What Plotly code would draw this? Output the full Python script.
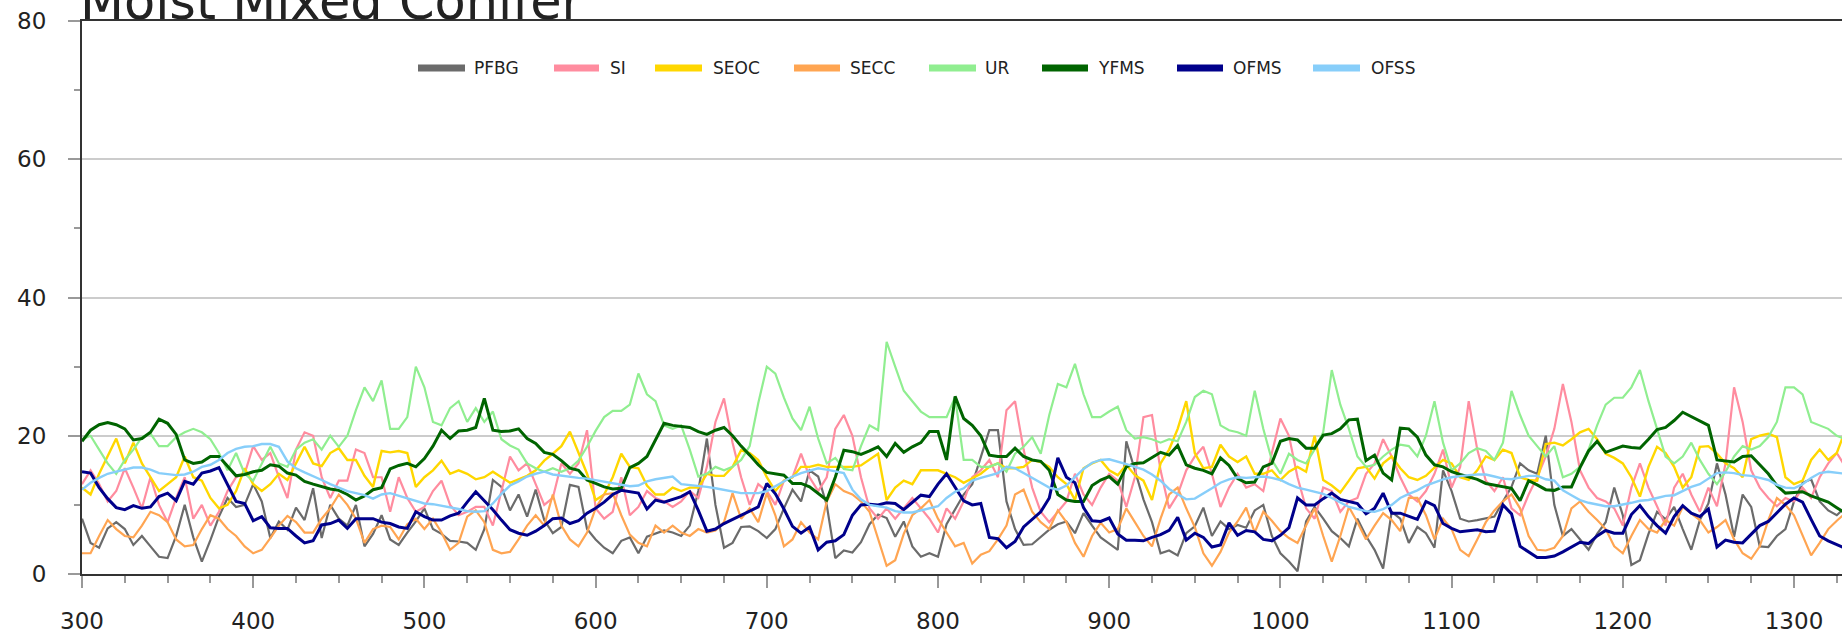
import plotly.graph_objects as go

# ---------------- data (5-year steps) ----------------
start_year = 300
step = 5

PFBG = [8.0, 4.5, 3.8, 6.6, 7.5, 6.5, 4.2, 5.5, 4.0, 2.5, 2.3, 5.5, 10.0, 5.3, 1.8, 4.9, 8.3, 11.0, 9.7, 10.0,
        13.0, 10.5, 5.2, 7.6, 6.4, 9.6, 7.8, 12.4, 5.2, 10.0, 8.0, 7.0, 10.0, 4.0, 5.8,
        8.5, 5.0, 4.2, 6.0, 7.6, 9.5, 6.5, 5.8, 4.8, 4.7, 4.5, 3.5, 6.5, 13.6, 12.6, 9.2, 11.5, 8.3, 12.2, 7.8,
        5.9, 6.8, 12.9, 12.6, 6.5, 5.0, 3.8, 3.0, 4.8, 5.3, 3.0, 5.4, 5.9, 6.3, 6.0,
        5.5, 7.0, 12.0, 19.6, 10.0, 3.8, 4.5, 6.8, 6.9, 6.2, 5.2, 6.5, 9.5, 12.2, 10.5, 15.0, 14.1, 10.0, 2.3, 3.4,
        3.1, 4.6, 7.2, 8.6, 8.1, 5.4, 7.6, 4.0, 2.5, 3.0, 2.5, 7.2, 9.3, 11.5,
        13.0, 17.0, 20.8, 20.8, 10.5, 6.5, 4.2, 4.3, 5.4, 6.4, 7.2, 7.6, 5.9, 8.8, 7.0, 5.3, 4.4, 3.5, 19.2, 15.0,
        10.8, 7.5, 3.0, 3.4, 2.7, 5.9, 6.9, 9.6, 5.5, 7.6, 6.5, 7.1, 6.7, 9.2,
        10.0, 5.5, 3.0, 1.8, 0.4, 7.6, 9.7, 8.0, 6.2, 5.2, 4.0, 8.0, 5.5, 3.5, 0.8, 9.0, 8.0, 4.5, 6.8, 5.9,
        3.8, 15.0, 12.0, 8.0, 7.6, 7.8, 8.0, 8.3, 10.5, 12.6, 16.0, 15.0, 14.5, 20.0, 10.0,
        5.5, 6.5, 5.0, 3.5, 5.8, 7.5, 12.5, 8.5, 1.3, 2.0, 5.8, 9.0, 7.9, 9.7, 6.5, 3.5, 7.8, 10.2, 16.0, 11.5,
        5.4, 11.5, 9.7, 4.0, 3.9, 5.5, 6.5, 10.5, 13.2, 13.7, 10.5, 9.2, 8.5, 9.7]

SI = [13.0, 15.0, 13.0, 10.5, 12.0, 15.3, 12.5, 9.5, 14.0, 10.0, 7.5, 11.0, 14.0, 8.0, 10.0, 7.0, 9.0, 12.0, 14.0, 14.5,
      18.5, 16.5, 17.5, 14.0, 11.0, 18.0, 20.5, 20.0, 14.0, 11.0, 13.5, 13.5, 18.0, 17.5, 14.0,
      14.0, 9.0, 14.0, 11.0, 9.0, 9.7, 12.0, 13.5, 10.0, 8.5, 9.0, 9.7, 9.7, 7.0, 12.0, 17.0, 15.0, 16.0, 13.0, 10.0,
      11.0, 16.0, 14.5, 16.0, 20.8, 9.5, 8.0, 9.0, 14.0, 8.5, 9.7, 12.0, 11.0, 10.5, 9.7,
      10.5, 12.0, 11.0, 15.5, 22.0, 25.4, 19.0, 14.0, 10.0, 13.0, 12.0, 10.0, 13.5, 14.0, 17.4, 14.0, 12.0, 14.0, 21.0, 23.0,
      20.0, 14.0, 9.5, 8.0, 9.5, 8.0, 9.5, 11.0, 9.5, 8.0, 6.0, 9.5, 8.0, 10.5,
      14.0, 15.0, 16.5, 14.0, 23.7, 25.0, 18.0, 12.5, 9.0, 7.5, 9.0, 10.5, 14.5, 11.5, 10.0, 12.5, 14.5, 13.5, 9.7, 14.0,
      22.7, 23.0, 15.0, 9.5, 11.5, 15.0, 17.0, 18.4, 14.5, 9.7, 12.5, 14.5, 12.5, 13.0,
      12.0, 17.5, 22.5, 20.0, 14.0, 9.5, 8.0, 12.5, 12.0, 9.0, 10.5, 11.0, 14.5, 16.0, 19.5, 17.0, 14.0, 11.5, 10.5, 12.0,
      14.5, 18.0, 12.5, 15.5, 25.0, 18.0, 13.5, 12.0, 14.0, 9.5, 8.5, 11.5, 14.0, 17.0, 21.0,
      27.5, 22.0, 15.0, 12.5, 11.0, 10.5, 9.5, 7.0, 12.5, 16.0, 12.5, 9.8, 7.0, 12.5, 14.5, 11.5, 9.0, 12.5, 9.8, 16.0,
      27.0, 22.0, 15.0, 12.5, 11.0, 9.8, 11.0, 10.5, 12.5, 11.0, 14.0, 16.0, 17.5, 15.5]

SEOC = [12.5, 11.5, 14.5, 17.0, 19.6, 16.0, 19.0, 16.0, 14.0, 12.0, 13.0, 14.0, 17.0, 14.0, 13.5, 11.0, 9.5, 10.0, 12.0, 15.3,
        13.0, 12.0, 13.0, 14.5, 13.6, 16.0, 18.4, 16.0, 15.6, 17.5, 18.2, 16.5, 16.5, 14.2, 12.6,
        17.8, 17.6, 17.8, 17.5, 12.6, 14.0, 15.0, 16.4, 14.5, 15.0, 14.5, 13.7, 14.0, 14.8, 14.0, 13.2, 13.7, 14.2, 15.0, 16.4,
        17.4, 18.5, 20.6, 17.6, 14.5, 10.7, 11.5, 14.0, 17.4, 15.5, 15.3, 12.8, 11.5, 11.5, 12.5,
        12.0, 12.5, 12.5, 14.5, 14.2, 14.2, 15.5, 17.9, 17.5, 16.5, 14.0, 12.0, 13.5, 14.0, 15.5, 15.5, 15.8, 15.5, 15.5, 15.5,
        15.5, 15.7, 16.5, 17.4, 10.7, 12.5, 13.5, 13.0, 15.0, 15.0, 15.0, 14.5, 14.0, 13.2,
        13.9, 14.5, 15.5, 16.0, 15.3, 15.3, 15.5, 16.5, 16.2, 15.5, 14.0, 13.0, 10.7, 15.3, 16.0, 16.5, 15.0, 14.3, 15.8, 14.3,
        13.5, 10.7, 16.0, 18.0, 21.0, 25.0, 17.5, 15.3, 15.5, 18.7, 17.0, 16.2, 17.0, 14.5,
        14.5, 15.0, 13.6, 14.8, 15.5, 14.8, 20.0, 13.6, 12.8, 11.8, 13.5, 15.3, 15.5, 13.8, 16.0, 17.0, 15.3, 14.0, 13.6, 14.2,
        15.4, 16.5, 16.0, 14.0, 13.6, 15.0, 17.0, 16.5, 18.0, 17.5, 14.0, 13.6, 13.5, 18.8, 19.0,
        18.6, 19.5, 20.5, 21.0, 19.5, 17.4, 16.8, 16.0, 14.0, 11.2, 15.5, 18.4, 17.5, 15.5, 12.5, 14.0, 18.4, 18.5, 17.4, 16.0,
        15.3, 14.0, 19.5, 20.0, 20.3, 19.8, 14.0, 13.0, 13.5, 16.5, 18.0, 16.5, 17.5, 20.8]

SECC = [3.0, 3.0, 5.5, 7.8, 6.5, 5.5, 5.3, 7.0, 9.0, 8.5, 7.5, 5.0, 4.0, 4.2, 6.5, 8.5, 8.0, 6.5, 5.5, 4.0,
        3.0, 3.5, 5.2, 7.0, 8.4, 7.5, 6.0, 6.0, 8.0, 9.5, 11.5, 10.0, 8.0, 4.5, 6.5,
        7.0, 6.8, 5.0, 7.2, 8.0, 6.5, 8.0, 6.0, 3.5, 4.5, 8.3, 9.2, 7.5, 3.5, 3.0, 3.2, 5.0, 7.0, 8.5, 7.0,
        11.5, 7.0, 5.0, 4.0, 6.0, 9.5, 11.5, 11.7, 8.5, 5.7, 4.5, 4.0, 7.0, 6.0, 7.0,
        6.0, 5.5, 6.5, 6.0, 6.3, 7.5, 11.7, 8.0, 9.5, 7.5, 11.7, 8.5, 4.0, 5.0, 7.5, 6.0, 5.0, 10.5, 13.0, 12.0,
        11.5, 10.5, 9.0, 5.0, 1.2, 2.0, 5.8, 8.5, 9.5, 10.7, 8.0, 6.0, 4.0, 4.5,
        1.5, 2.8, 3.3, 5.0, 7.0, 11.5, 12.2, 9.0, 7.5, 6.5, 9.2, 7.5, 4.5, 2.5, 5.5, 7.4, 6.0, 6.5, 9.5, 7.5,
        5.5, 4.0, 8.0, 11.5, 12.5, 9.5, 6.8, 3.0, 1.2, 3.2, 6.0, 7.6, 9.6, 6.0,
        9.0, 7.7, 6.2, 5.2, 4.5, 7.0, 9.5, 5.5, 1.8, 5.5, 9.7, 7.5, 5.0, 7.0, 8.8, 7.8, 6.2, 11.0, 11.0, 8.5,
        5.0, 8.0, 6.5, 3.5, 2.6, 5.0, 7.5, 9.2, 10.5, 11.5, 9.5, 5.5, 3.5, 3.4, 3.8,
        5.5, 9.5, 10.5, 9.0, 7.8, 6.5, 4.0, 3.0, 5.5, 7.8, 6.5, 6.0, 7.8, 7.0, 9.7, 8.8, 7.8, 6.0, 6.8, 7.8,
        5.0, 3.0, 2.2, 4.0, 7.8, 11.0, 10.0, 8.5, 5.5, 2.7, 4.5, 6.5, 7.7, 8.8]

UR = [19.5, 20.0, 18.0, 16.0, 14.5, 16.5, 18.0, 19.8, 20.3, 18.5, 18.5, 19.8, 20.5, 21.0, 20.5, 19.5, 17.5, 15.0, 17.5, 14.5,
      13.5, 16.0, 18.4, 16.0, 15.5, 18.0, 19.0, 19.5, 18.0, 20.0, 18.4, 20.0, 23.7, 27.0, 25.0,
      28.0, 21.0, 21.0, 22.7, 30.0, 27.0, 22.0, 21.5, 24.0, 25.0, 22.0, 24.0, 22.0, 23.5, 19.5, 18.6, 18.0, 16.0, 15.3, 14.8,
      15.3, 14.8, 15.3, 16.4, 18.4, 20.7, 22.7, 23.6, 23.6, 24.5, 29.0, 26.0, 25.0, 21.5, 21.0,
      21.5, 18.0, 14.1, 14.5, 15.5, 15.0, 15.5, 16.5, 18.5, 24.7, 30.0, 29.0, 25.5, 22.5, 20.8, 24.2, 19.6, 16.0, 16.8, 15.2,
      15.0, 18.5, 21.5, 20.8, 33.6, 30.0, 26.5, 25.0, 23.5, 22.7, 22.7, 22.7, 25.6, 16.5,
      16.5, 15.5, 15.5, 16.0, 14.8, 17.4, 18.4, 19.8, 17.4, 23.0, 27.5, 27.0, 30.4, 26.0, 22.7, 22.7, 23.5, 24.2, 20.8, 19.6,
      19.8, 19.5, 19.0, 19.5, 19.2, 22.0, 25.6, 26.5, 26.0, 21.5, 20.8, 20.5, 20.0, 26.5,
      21.0, 16.5, 14.5, 17.4, 16.5, 16.0, 18.0, 20.5, 29.5, 24.5, 21.0, 17.0, 15.5, 15.8, 17.0, 18.0, 18.7, 18.5, 17.0, 20.0,
      25.0, 19.0, 15.0, 16.0, 17.5, 18.2, 17.8, 16.5, 19.0, 26.5, 23.0, 20.0, 18.5, 17.0, 18.5,
      14.0, 14.5, 15.5, 18.0, 21.5, 24.5, 25.5, 25.5, 27.0, 29.5, 25.0, 21.0, 17.0, 16.0, 17.0, 19.0, 16.5, 14.5, 13.0, 14.8,
      17.0, 18.5, 18.0, 18.5, 19.8, 22.0, 27.0, 27.0, 26.0, 22.0, 21.5, 21.0, 20.0, 19.5]

YFMS = [19.2, 20.8, 21.6, 21.9, 21.6, 21.0, 19.4, 19.6, 20.5, 22.4, 21.8, 20.2, 16.5, 16.0, 16.2, 17.0, 17.0, 15.6, 14.2, 14.4,
        14.8, 15.0, 15.8, 15.6, 14.6, 14.3, 13.4, 13.0, 12.6, 12.3, 12.1, 11.5, 10.7, 11.3, 12.2,
        12.5, 15.2, 15.7, 16.0, 15.5, 16.7, 18.5, 20.8, 19.6, 20.7, 20.8, 21.2, 25.4, 20.8, 20.6, 20.7, 21.0, 19.6, 18.9, 17.6,
        17.3, 16.4, 15.3, 15.0, 13.6, 13.1, 12.6, 12.3, 12.4, 15.4, 16.0, 17.0, 19.5, 21.8, 21.5,
        21.4, 21.2, 20.6, 20.2, 20.8, 21.2, 20.0, 18.5, 17.2, 15.8, 14.7, 14.5, 14.3, 13.1, 13.1, 12.6, 11.7, 10.7, 14.0, 17.9,
        17.7, 17.3, 17.8, 18.4, 17.0, 18.9, 17.6, 18.4, 19.0, 20.6, 20.6, 16.5, 25.7, 22.5,
        21.5, 20.0, 17.2, 17.0, 17.0, 18.2, 17.0, 16.5, 16.3, 15.0, 11.5, 10.7, 10.5, 10.5, 12.8, 13.6, 14.1, 13.0, 15.5, 16.0,
        16.1, 16.8, 17.6, 17.2, 18.6, 15.8, 15.3, 15.0, 14.5, 16.8, 15.7, 13.8, 13.2, 13.3,
        15.5, 16.0, 19.2, 19.6, 19.4, 18.2, 18.2, 20.1, 20.3, 21.0, 22.3, 22.4, 16.4, 17.2, 14.6, 13.6, 21.1, 21.0, 19.8, 17.2,
        15.8, 15.5, 14.8, 14.4, 14.1, 13.7, 13.1, 12.9, 12.7, 12.4, 10.6, 13.5, 12.9, 12.2, 12.1,
        12.6, 12.6, 15.4, 17.8, 19.2, 17.6, 18.0, 18.5, 18.3, 18.2, 19.5, 20.9, 21.2, 22.2, 23.4, 22.8, 22.2, 21.5, 16.5, 16.4,
        16.2, 17.0, 17.1, 15.8, 14.5, 12.8, 11.7, 11.8, 11.9, 11.3, 10.8, 10.4, 9.6, 8.8]

OFMS = [14.8, 14.6, 12.5, 10.9, 9.6, 9.3, 9.9, 9.5, 9.7, 11.2, 11.7, 10.6, 13.4, 13.0, 14.6, 14.9, 15.4, 12.9, 10.5, 10.2,
        7.7, 8.3, 6.7, 6.6, 6.6, 5.5, 4.5, 4.8, 7.1, 7.3, 7.8, 6.6, 8.0, 8.0, 8.0,
        7.5, 7.3, 6.8, 6.6, 9.0, 8.3, 7.8, 7.8, 8.4, 8.8, 10.4, 11.9, 10.6, 9.3, 7.8, 6.4, 5.9, 5.6, 6.2, 7.0,
        8.0, 8.1, 7.3, 7.7, 8.8, 9.5, 10.4, 11.5, 12.1, 11.9, 11.7, 9.4, 10.7, 10.4, 10.8,
        11.2, 11.9, 9.2, 6.2, 6.5, 7.3, 7.9, 8.6, 9.1, 9.7, 13.1, 11.6, 9.4, 6.9, 5.9, 6.8, 3.5, 4.6, 4.8, 5.7,
        8.5, 10.0, 10.1, 10.0, 10.3, 10.2, 9.3, 10.4, 11.4, 11.2, 13.0, 14.5, 12.6, 10.6,
        10.0, 10.2, 5.3, 5.1, 3.8, 4.7, 6.8, 7.9, 9.0, 11.0, 16.8, 14.0, 13.2, 9.6, 7.7, 7.6, 8.1, 5.8, 4.9, 4.9,
        4.8, 5.3, 5.7, 6.3, 8.2, 4.9, 5.9, 5.3, 3.9, 4.2, 7.4, 5.6, 6.3, 6.1,
        5.0, 4.8, 5.6, 6.7, 11.0, 10.0, 10.0, 10.9, 11.7, 10.8, 10.5, 10.2, 8.7, 9.5, 11.7, 8.8, 8.8, 8.3, 7.9, 10.5,
        9.9, 7.3, 6.6, 6.1, 6.2, 6.4, 6.1, 6.2, 10.0, 8.7, 4.0, 3.2, 2.4, 2.4, 2.6,
        3.2, 3.9, 4.6, 4.4, 5.5, 6.3, 5.9, 5.9, 8.6, 9.9, 8.3, 7.0, 5.9, 8.3, 9.9, 8.8, 8.3, 9.4, 3.9, 4.9,
        4.6, 4.5, 5.8, 7.0, 7.6, 8.8, 10.1, 11.0, 10.4, 7.9, 5.5, 4.8, 4.2, 3.7]

OFSS = [12.2, 13.2, 13.9, 14.5, 14.8, 15.1, 15.4, 15.4, 15.1, 14.6, 14.4, 14.3, 14.4, 14.8, 15.5, 15.8, 16.5, 17.5, 18.1, 18.4,
        18.5, 18.8, 18.8, 18.4, 16.3, 15.3, 14.7, 14.2, 13.6, 13.0, 12.5, 12.0, 11.7, 11.4, 10.9,
        11.5, 11.7, 11.3, 11.0, 10.6, 10.2, 10.1, 9.9, 9.7, 9.4, 9.1, 9.0, 9.1, 10.2, 11.6, 12.8, 13.4, 14.1, 14.5, 14.8,
        14.4, 14.2, 14.1, 13.9, 13.8, 13.6, 13.3, 13.1, 12.9, 12.7, 12.8, 13.4, 13.7, 13.9, 14.1,
        13.0, 12.9, 12.8, 12.6, 12.4, 12.2, 11.9, 11.7, 11.7, 11.7, 12.0, 12.7, 13.5, 14.1, 14.6, 15.0, 15.3, 15.1, 14.9, 14.6,
        12.2, 10.8, 10.0, 9.8, 9.6, 9.1, 8.9, 8.9, 9.2, 9.4, 9.8, 11.0, 11.9, 12.4,
        13.5, 13.9, 14.2, 14.6, 15.5, 15.3, 14.6, 13.9, 13.1, 12.5, 12.2, 12.8, 14.0, 15.2, 16.1, 16.5, 16.6, 16.3, 15.9, 15.5,
        15.1, 14.4, 13.5, 12.3, 11.5, 10.8, 10.9, 11.6, 12.4, 13.2, 13.7, 14.0, 13.9, 14.0,
        14.1, 13.9, 13.6, 13.0, 12.5, 12.2, 11.9, 11.6, 11.0, 10.3, 9.7, 9.4, 9.1, 9.0, 9.4, 10.0, 11.0, 11.6, 12.1, 12.8,
        13.3, 13.7, 14.0, 14.2, 14.3, 14.4, 14.4, 14.1, 13.8, 13.7, 14.0, 14.2, 14.2, 13.7, 13.5,
        12.1, 11.4, 10.7, 10.3, 10.0, 9.8, 9.8, 10.0, 10.3, 10.6, 10.7, 11.0, 11.3, 11.4, 12.0, 12.6, 13.0, 13.8, 14.6, 14.7,
        14.6, 14.3, 14.2, 13.9, 13.6, 12.9, 12.5, 12.4, 13.0, 13.9, 14.6, 14.8, 14.7, 14.5]

series_names = ["PFBG", "SI", "SEOC", "SECC", "UR", "YFMS", "OFMS", "OFSS"]
series_values = [PFBG, SI, SEOC, SECC, UR, YFMS, OFMS, OFSS]
series_colors = ["#6b6b6b", "#ff8c9f", "#ffd700", "#ffa552", "#90ee90", "#006400", "#00008b", "#87cefa"]
series_widths = [2.2, 2.2, 2.4, 2.2, 2.2, 3.0, 3.0, 2.4]

title_text = "Moist Mixed Conifer"
x_tick_values = [300, 400, 500, 600, 700, 800, 900, 1000, 1100, 1200, 1300]
y_tick_values = [0, 20, 40, 60, 80]

# ---------------- geometry ----------------
W, H = 1842, 633
L, R, T, B = 82, 0, 21, 59
PW, PH = W - L - R, H - T - B
px_per_year = 1.712
x_max = start_year + PW / px_per_year

FONT = "DejaVu Sans"

fig = go.Figure()
for name, vals, col, lw in zip(series_names, series_values, series_colors, series_widths):
    xs = [start_year + step * i for i in range(len(vals))]
    fig.add_trace(go.Scatter(x=xs, y=vals, mode="lines", name=name,
                             line=dict(color=col, width=lw), showlegend=False,
                             hoverinfo="skip"))

legend_swatch_px = [(418, 465), (554, 599), (655, 702), (794, 840), (929, 976), (1042, 1088), (1177, 1223), (1313, 1360)]
legend_text_px = [474, 610, 713, 850, 985, 1098, 1233, 1371]
legend_y_px = 68

def px_x(p):
    return (p - L) / PW

def px_y(p):
    return (H - B - p) / PH

shapes = []
annotations = []
for name, col, (a, b), tx in zip(series_names, series_colors, legend_swatch_px, legend_text_px):
    shapes.append(dict(type="line", xref="paper", yref="paper",
                       x0=px_x(a), x1=px_x(b), y0=px_y(legend_y_px), y1=px_y(legend_y_px),
                       line=dict(color=col, width=7)))
    annotations.append(dict(text=name, xref="paper", yref="paper", x=px_x(tx - 2), y=px_y(legend_y_px),
                            xanchor="left", yanchor="middle", showarrow=False,
                            font=dict(family=FONT, size=17, color="#222222")))

annotations.append(dict(text=title_text, xref="paper", yref="paper", x=px_x(78), y=px_y(1),
                        xanchor="left", yanchor="middle", showarrow=False,
                        font=dict(family=FONT, size=51, color="#222222")))

fig.update_layout(
    width=W, height=H, autosize=False,
    margin=dict(l=L, r=R, t=T, b=B, pad=0),
    paper_bgcolor="white", plot_bgcolor="white",
    font=dict(family=FONT, size=23, color="#222222"),
    shapes=shapes, annotations=annotations,
    showlegend=False,
)
fig.update_xaxes(
    range=[start_year, x_max], tickvals=x_tick_values,
    showgrid=False, zeroline=False,
    showline=True, linecolor="#333333", linewidth=2, mirror=True,
    ticks="outside", ticklen=12, tickwidth=2, tickcolor="#999999",
    ticklabelstandoff=13,
    tickfont=dict(family=FONT, size=23, color="#222222"),
    minor=dict(dtick=25, tick0=300, ticks="outside", ticklen=7, tickwidth=1.5, tickcolor="#999999"),
)
fig.update_yaxes(
    range=[0, 80], tickvals=y_tick_values,
    showgrid=True, gridcolor="#cccccc", gridwidth=2, zeroline=False,
    showline=True, linecolor="#333333", linewidth=2,
    ticks="outside", ticklen=12, tickwidth=2, tickcolor="#999999",
    ticklabelstandoff=17,
    tickfont=dict(family=FONT, size=23, color="#222222"),
    minor=dict(dtick=10, tick0=0, ticks="outside", ticklen=6, tickwidth=1.5, tickcolor="#999999"),
)

fig.write_html("out.html", config={"displayModeBar": False})
